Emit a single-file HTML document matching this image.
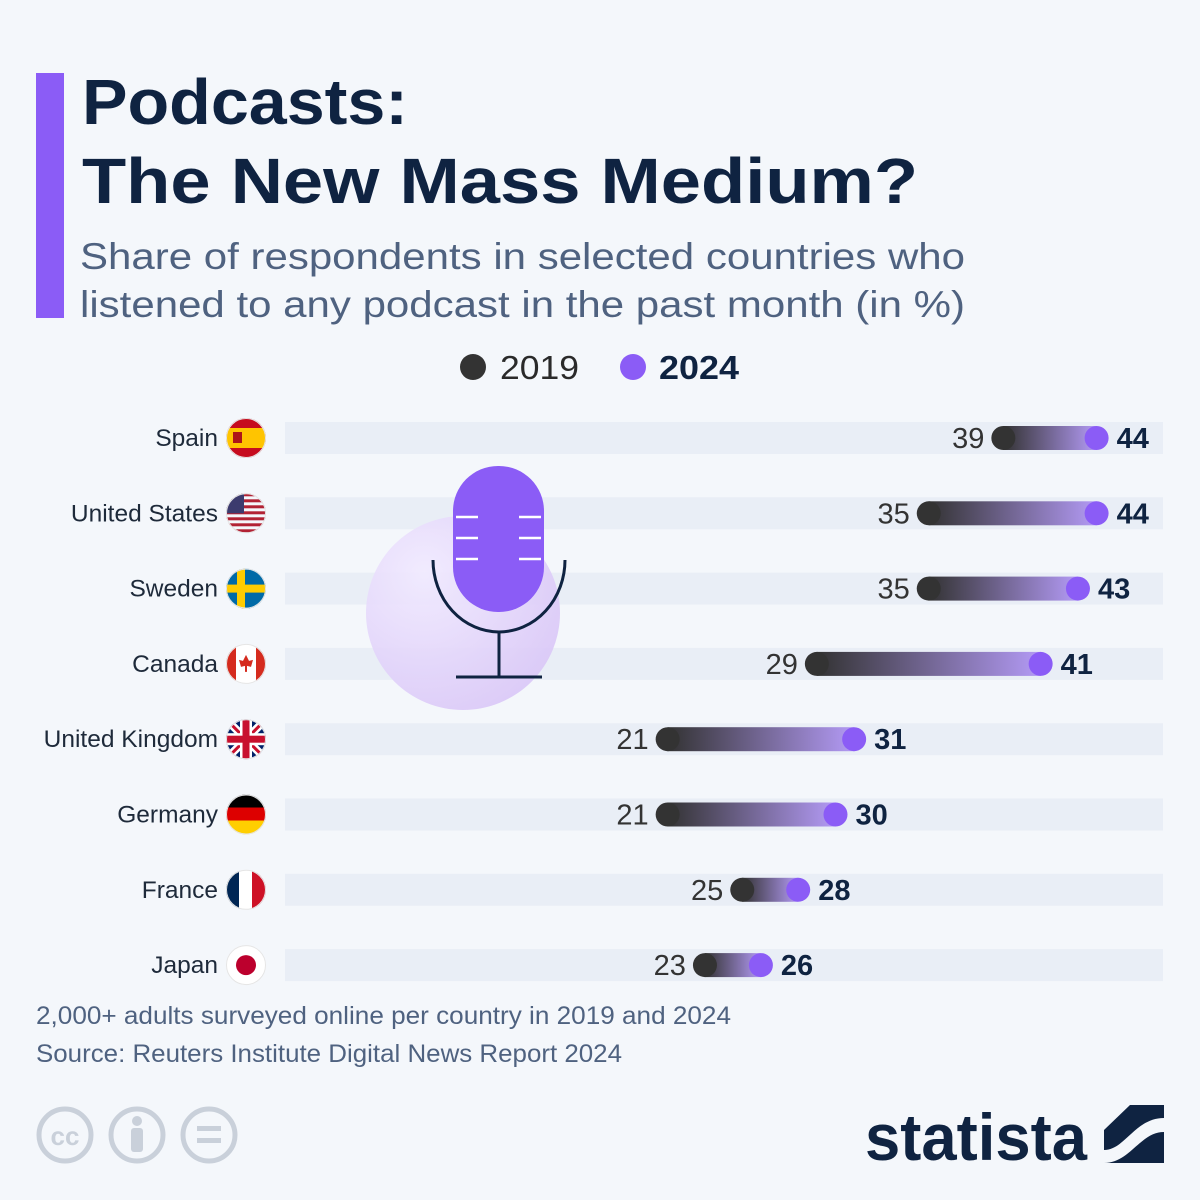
<!DOCTYPE html>
<html><head><meta charset="utf-8"><style>
body{margin:0;background:#f4f7fb;}
svg{display:block;font-family:"Liberation Sans","DejaVu Sans",sans-serif;}
</style></head><body>
<svg width="1200" height="1200" viewBox="0 0 1200 1200">
<defs>
<linearGradient id="bg" x1="0" x2="1" y1="0" y2="0"><stop offset="0" stop-color="#333"/><stop offset="1" stop-color="#b39af5"/></linearGradient>
<radialGradient id="halo" cx="0.3" cy="0.3" r="0.8"><stop offset="0" stop-color="#f1eaff"/><stop offset="1" stop-color="#d9c6f7"/></radialGradient>
<clipPath id="fc"><circle cx="0" cy="0" r="20"/></clipPath>
</defs>
<rect width="1200" height="1200" fill="#f4f7fb"/>
<rect x="36" y="73" width="28" height="245" fill="#8b5cf6"/>
<text x="82" y="124" font-size="64" font-weight="bold" fill="#0f2341" textLength="326" lengthAdjust="spacingAndGlyphs">Podcasts:</text>
<text x="82" y="203" font-size="64" font-weight="bold" fill="#0f2341" textLength="836" lengthAdjust="spacingAndGlyphs">The New Mass Medium?</text>
<text x="80" y="269" font-size="37" fill="#4f6280" textLength="885" lengthAdjust="spacingAndGlyphs">Share of respondents in selected countries who</text>
<text x="80" y="317" font-size="37" fill="#4f6280" textLength="885" lengthAdjust="spacingAndGlyphs">listened to any podcast in the past month (in %)</text>
<g>
<circle cx="473" cy="367" r="13" fill="#333"/>
<text x="500" y="379" font-size="33" fill="#2a2a2a" textLength="79" lengthAdjust="spacingAndGlyphs">2019</text>
<circle cx="633" cy="367" r="13" fill="#8b5cf6"/>
<text x="659" y="379" font-size="33" font-weight="bold" fill="#0f2341" textLength="80" lengthAdjust="spacingAndGlyphs">2024</text>
</g>
<g id="rows"></g>
<g>
<circle cx="463" cy="613" r="97" fill="url(#halo)" opacity="0.9"/>
<rect x="453" y="466" width="91" height="146" rx="45" fill="#8b5cf6"/>
<g stroke="#fff" stroke-width="2.5"><line x1="456" y1="517" x2="478" y2="517"/><line x1="519" y1="517" x2="541" y2="517"/><line x1="456" y1="538" x2="478" y2="538"/><line x1="519" y1="538" x2="541" y2="538"/><line x1="456" y1="559" x2="478" y2="559"/><line x1="519" y1="559" x2="541" y2="559"/></g>
<path d="M433 560 A66 72 0 0 0 565 560" fill="none" stroke="#0f2341" stroke-width="3"/>
<line x1="499" y1="633" x2="499" y2="677" stroke="#0f2341" stroke-width="3"/>
<line x1="456" y1="677" x2="542" y2="677" stroke="#0f2341" stroke-width="3"/>
</g>
<text x="36" y="1024" font-size="25" fill="#4f6280" textLength="695" lengthAdjust="spacingAndGlyphs">2,000+ adults surveyed online per country in 2019 and 2024</text>
<text x="36" y="1062" font-size="25" fill="#4f6280" textLength="586" lengthAdjust="spacingAndGlyphs">Source: Reuters Institute Digital News Report 2024</text>
<g fill="none" stroke="#c9d0da" stroke-width="5">
<circle cx="65" cy="1135" r="26"/><circle cx="137" cy="1135" r="26"/><circle cx="209" cy="1135" r="26"/>
</g>
<text x="65" y="1145" font-size="26" font-weight="bold" fill="#c9d0da" text-anchor="middle">cc</text>
<circle cx="137" cy="1121" r="5" fill="#c9d0da"/><rect x="131" y="1128" width="12" height="24" rx="3" fill="#c9d0da"/>
<rect x="197" y="1126" width="24" height="5" fill="#c9d0da"/><rect x="197" y="1138" width="24" height="5" fill="#c9d0da"/>
<text x="865" y="1160" font-size="66" font-weight="bold" fill="#0f2341" textLength="222" lengthAdjust="spacingAndGlyphs">statista</text>
<g>
<rect x="1104" y="1105" width="60" height="58" fill="#0f2341"/>
<path d="M1104 1150 C1125 1150 1135 1118 1164 1118 L1164 1132 C1140 1132 1130 1163 1104 1163Z" fill="#f4f7fb"/>
<path d="M1104 1105 L1130 1105 L1104 1130Z" fill="#f4f7fb"/>
</g>
<script>
const countries=["Spain","United States","Sweden","Canada","United Kingdom","Germany","France","Japan"];
const values2019=[39,35,35,29,21,21,25,23];
const values2024=[44,44,43,41,31,30,28,26];
const ns="http://www.w3.org/2000/svg";
const g=document.getElementById('rows');
function xScale(v){return 276+v*18.65;}
function yScale(i){return 438+i*75.3;}
function mk(t,a,p){const e=document.createElementNS(ns,t);for(const k in a)e.setAttribute(k,a[k]);(p||g).appendChild(e);return e;}
const flags=[
 f=>{mk('rect',{x:-20,y:-20,width:40,height:40,fill:'#c60b1e'},f);mk('rect',{x:-20,y:-10,width:40,height:20,fill:'#ffc400'},f);mk('rect',{x:-13,y:-6,width:9,height:11,fill:'#ad1519'},f);},
 f=>{for(let k=0;k<7;k++)mk('rect',{x:-20,y:-20+k*6,width:40,height:3,fill:'#b22234'},f);mk('rect',{x:-20,y:-20,width:18,height:20,fill:'#3c3b6e'},f);},
 f=>{mk('rect',{x:-20,y:-20,width:40,height:40,fill:'#006aa7'},f);mk('rect',{x:-20,y:-4,width:40,height:8,fill:'#fecc00'},f);mk('rect',{x:-9,y:-20,width:8,height:40,fill:'#fecc00'},f);},
 f=>{mk('rect',{x:-20,y:-20,width:40,height:40,fill:'#fff'},f);mk('rect',{x:-20,y:-20,width:10,height:40,fill:'#d52b1e'},f);mk('rect',{x:10,y:-20,width:10,height:40,fill:'#d52b1e'},f);mk('path',{d:'M0 -9 L3 -3 L7 -4 L5 3 L1 2 L1 8 L-1 8 L-1 2 L-5 3 L-7 -4 L-3 -3Z',fill:'#d52b1e'},f);},
 f=>{mk('rect',{x:-20,y:-20,width:40,height:40,fill:'#012169'},f);mk('path',{d:'M-20 -20 L20 20 M20 -20 L-20 20',stroke:'#fff','stroke-width':8},f);mk('path',{d:'M-20 -20 L20 20 M20 -20 L-20 20',stroke:'#c8102e','stroke-width':3},f);mk('rect',{x:-20,y:-6,width:40,height:12,fill:'#fff'},f);mk('rect',{x:-6,y:-20,width:12,height:40,fill:'#fff'},f);mk('rect',{x:-20,y:-3.5,width:40,height:7,fill:'#c8102e'},f);mk('rect',{x:-3.5,y:-20,width:7,height:40,fill:'#c8102e'},f);},
 f=>{mk('rect',{x:-20,y:-20,width:40,height:14,fill:'#000'},f);mk('rect',{x:-20,y:-7,width:40,height:14,fill:'#dd0000'},f);mk('rect',{x:-20,y:6,width:40,height:14,fill:'#ffce00'},f);},
 f=>{mk('rect',{x:-20,y:-20,width:14,height:40,fill:'#002654'},f);mk('rect',{x:-7,y:-20,width:14,height:40,fill:'#fff'},f);mk('rect',{x:6,y:-20,width:14,height:40,fill:'#ce1126'},f);},
 f=>{mk('rect',{x:-20,y:-20,width:40,height:40,fill:'#fff'},f);mk('circle',{cx:0,cy:0,r:10,fill:'#bc002d'},f);}
];
countries.forEach((c,i)=>{
 const y=yScale(i),x1=xScale(values2019[i]),x2=xScale(values2024[i]);
 const row=mk('g',{});
 
 
 const tr=mk('rect',{x:285,y:y-16,width:878,height:32,fill:'#e9eef6'},row);
 
 
 const lb=mk('text',{x:218,y:y+8,'font-size':24.5,fill:'#1e2a3a','text-anchor':'end'},row);lb.textContent=c;
 
 
 const fg=mk('g',{transform:`translate(246,${y})`},row);
 
 
 const fi=mk('g',{'clip-path':'url(#fc)'},fg);flags[i](fi);
 mk('circle',{cx:0,cy:0,r:19.5,fill:'none',stroke:'#e5e5e5','stroke-width':1},fg);
 const bar=mk('rect',{x:x1,y:y-12,width:x2-x1,height:24,fill:'url(#bg)'},row);
 
 
 const d1=mk('circle',{cx:x1,cy:y,r:12,fill:'#333'},row);
 
 
 const d2=mk('circle',{cx:x2,cy:y,r:12,fill:'#8b5cf6'},row);
 
 
 const t1=mk('text',{x:x1-19,y:y+10,'font-size':29,fill:'#333','text-anchor':'end'},row);t1.textContent=values2019[i];
 
 
 const t2=mk('text',{x:x2+20,y:y+10,'font-size':29,'font-weight':'bold',fill:'#0f2341'},row);t2.textContent=values2024[i];
 
 
});
</script>
</svg>
</body></html>
